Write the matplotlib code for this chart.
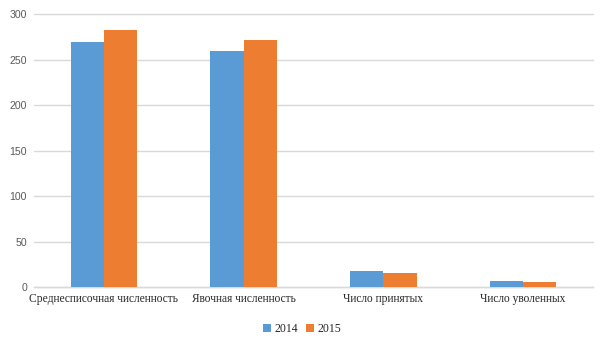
import matplotlib
matplotlib.use("Agg")
import matplotlib.pyplot as plt
import numpy as np

categories = ["Среднесписочная численность", "Явочная численность", "Число принятых", "Число уволенных"]
values_2014 = [270, 260, 18, 7]
values_2015 = [283, 272, 15, 5]
series_labels = ["2014", "2015"]
yticks = [0, 50, 100, 150, 200, 250, 300]

blue = "#5B9BD5"
orange = "#ED7D31"
grid_c = "#D9D9D9"

fig = plt.figure(figsize=(6.05, 3.4), dpi=100)
ax = fig.add_axes([34 / 605, 1 - 287 / 340, 559 / 605, (287 - 14.3) / 340])

x = np.arange(len(categories))
w = 1 / (2 + 2.19)
ax.bar(x - w / 2, values_2014, width=w, color=blue, label=series_labels[0], zorder=3)
ax.bar(x + w / 2, values_2015, width=w, color=orange, label=series_labels[1], zorder=3)

ax.set_xlim(-0.5, len(categories) - 0.5)
ax.set_ylim(0, 300)
ax.set_yticks(yticks)
ax.yaxis.grid(True, color=grid_c, linewidth=1, zorder=0)
for gl in ax.get_ygridlines():
    gl.set_clip_on(False)
ax.set_axisbelow(True)
for s in ["top", "right", "left"]:
    ax.spines[s].set_visible(False)
ax.spines["bottom"].set_color(grid_c)
ax.spines["bottom"].set_linewidth(1)
ax.tick_params(axis="both", length=0)
ax.tick_params(axis="y", pad=5)
ax.tick_params(axis="x", pad=4)

ax.set_xticks(x)
ax.set_xticklabels(categories, fontfamily="Liberation Serif", fontsize=8.3, color="#262626")
for lbl in ax.get_yticklabels():
    lbl.set_fontfamily("Liberation Sans")
    lbl.set_fontsize(7.6)
    lbl.set_color("#595959")

leg = fig.legend(loc="center", bbox_to_anchor=(302 / 605, 1 - 329 / 340), ncol=2, frameon=False,
                 prop={"family": "Liberation Serif", "size": 8.5}, handlelength=0.65, handleheight=0.65,
                 handletextpad=0.3, columnspacing=0.7)
for t in leg.get_texts():
    t.set_color("#262626")

fig.savefig("out.png", dpi=100)
